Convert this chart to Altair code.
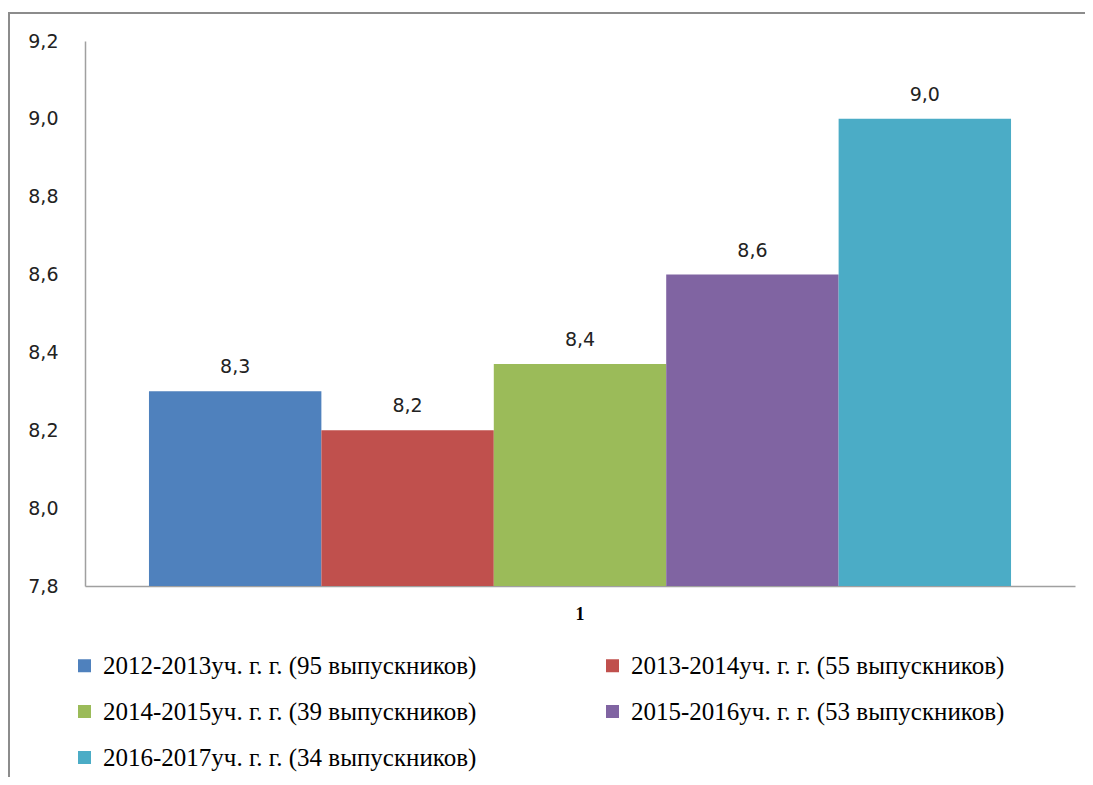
import altair as alt
import pandas as pd

series = [
    "2012-2013уч. г. г. (95 выпускников)",
    "2013-2014уч. г. г. (55 выпускников)",
    "2014-2015уч. г. г. (39 выпускников)",
    "2015-2016уч. г. г. (53 выпускников)",
    "2016-2017уч. г. г. (34 выпускников)",
]
values = [8.30, 8.20, 8.37, 8.60, 9.00]
category = ["1", "1", "1", "1", "1"]
colors = ["#4F81BD", "#C0504D", "#9BBB59", "#8064A2", "#4BACC6"]
y_ticks = [7.8, 8.0, 8.2, 8.4, 8.6, 8.8, 9.0, 9.2]

df = pd.DataFrame({"series": series, "value": values, "cat": category})

W, H = 990, 545

base = alt.Chart(df).encode(
    x=alt.X("cat:N", title=None,
            scale=alt.Scale(paddingInner=0, paddingOuter=0.0742),
            axis=alt.Axis(labelFont="Liberation Serif", labelFontSize=18, labelFontWeight="bold",
                          labelColor="#000000", labelPadding=19, ticks=False,
                          domainColor="#A0A0A0", domainWidth=1.5, labelAngle=0)),
    xOffset=alt.XOffset("series:N", sort=series,
                        scale=alt.Scale(paddingInner=0, paddingOuter=0)),
    y=alt.Y("value:Q", title=None,
            scale=alt.Scale(domain=[7.8, 9.2], nice=False, zero=False),
            axis=alt.Axis(values=y_ticks, grid=False, ticks=False,
                          labelExpr="replace(format(datum.value, '.1f'), '.', ',')",
                          labelFont="DejaVu Sans", labelFontSize=19, labelColor="#222222",
                          labelPadding=27, domainColor="#A0A0A0", domainWidth=1.5)),
)

bars = base.mark_bar(clip=True).encode(
    color=alt.Color("series:N", sort=series,
                    scale=alt.Scale(domain=series, range=colors),
                    legend=alt.Legend(title=None, orient="none", legendX=-13, legendY=612,
                                      columns=2, columnPadding=123, rowPadding=20,
                                      symbolType="square", symbolSize=169, symbolStrokeWidth=0,
                                      labelFont="Liberation Serif", labelFontSize=25,
                                      labelColor="#000000", labelOffset=6, labelLimit=700,
                                      direction="horizontal")),
)

labels = base.transform_calculate(
    lbl="replace(format(datum.value, '.1f'), '.', ',')"
).mark_text(baseline="bottom", dy=-14, font="DejaVu Sans", fontSize=19, color="#222222").encode(
    text="lbl:N",
)

frame = alt.Chart(pd.DataFrame({"a": [0]})).mark_rect(
    fill=None, stroke="#8C8C8C", strokeWidth=2
).encode(
    x=alt.value(-76), x2=alt.value(W + 60), y=alt.value(-28), y2=alt.value(H + 260)
)

chart = alt.layer(frame, bars, labels).properties(
    width=W, height=H,
    background="white",
    autosize=alt.AutoSizeParams(type="none"),
    padding={"left": 77, "top": 33, "right": 10, "bottom": 191},
).configure_view(stroke=None)

chart.save("out.html", embed_options={"renderer": "svg", "actions": False})
